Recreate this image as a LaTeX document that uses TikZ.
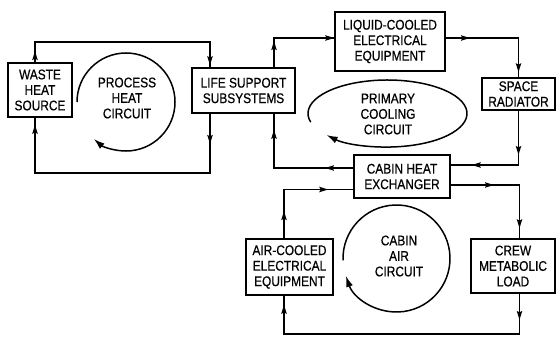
\documentclass[tikz,border=0pt]{standalone}
\usepackage{fontspec}
\setmainfont{Liberation Sans}[FakeStretch=0.85,FakeBold=0.6]
\usetikzlibrary{arrows.meta,decorations.markings}

\def\flowtip{\fill (1pt,0pt) -- (-8pt,2.8pt) -- (-6.5pt,0pt) -- (-8pt,-2.8pt) -- cycle;}

\tikzset{
  blk/.style={draw, line width=1.7pt, inner sep=0pt, align=center,
    font=\fontsize{14}{15.5}\selectfont},
  lbl/.style={inner sep=0pt, align=center, font=\fontsize{14}{15.5}\selectfont},
  flow/.style 2 args={draw, line width=1.4pt,
    postaction={decorate, decoration={markings,
      mark=at position #1 with {\flowtip},
      mark=at position #2 with {\flowtip}}}},
  loopline/.style={line width=1.5pt, -{Latex[length=11pt,width=7pt]}}
}

\begin{document}
\begin{tikzpicture}[x=1pt,y=-1pt]
  \useasboundingbox (0,0) rectangle (556,337);

  % blocks
  \foreach \n/\p/\w/\h/\t in {
      waste/{40,90}/64/54/{WASTE\\HEAT\\SOURCE},
      life/{243.5,90.5}/103/45/{LIFE SUPPORT\\SUBSYSTEMS},
      liquid/{390,41.5}/110/59/{LIQUID-COOLED\\ELECTRICAL\\EQUIPMENT},
      radiator/{518.5,94}/73/32/{SPACE\\RADIATOR},
      hx/{402,176.5}/96/43/{CABIN HEAT\\EXCHANGER},
      aircooled/{289.5,267}/87/56/{AIR-COOLED\\ELECTRICAL\\EQUIPMENT},
      crew/{513,266}/84/54/{CREW\\METABOLIC\\LOAD}}{
    \node[blk, minimum width=\w pt, minimum height=\h pt] (\n) at (\p) {\t};
  }

  % circuits
  \coordinate (procc) at (126,102);
  \coordinate (primc) at (387.5,113.5);
  \coordinate (airc) at (396.5,258.5);
  \node[lbl] (proc) at (127,98) {PROCESS\\HEAT\\CIRCUIT};
  \node[lbl] (prim) at (388,114) {PRIMARY\\COOLING\\CIRCUIT};
  \node[lbl] (cabair) at (399,256) {CABIN\\AIR\\CIRCUIT};
  \draw[loopline] ([shift={(180:49)}]procc) arc[start angle=180, end angle=491, radius=49];
  \draw[loopline] ([shift={(165:79.5 and 33.5)}]primc)
    arc[start angle=165, end angle=500, x radius=79.5, y radius=33.5];
  \draw[loopline] ([shift={(178:53.5)}]airc) arc[start angle=178, end angle=521, radius=53.5];

  % process heat loop
  \path[flow={10pt}{-3pt}] ([xshift=-5pt]waste.north) -- ++(0,-20) -| ([xshift=-33.5pt]life.north);
  \path[flow={29pt}{-8pt}] ([xshift=-33.5pt]life.south) -- ++(0,59) -| ([xshift=-5pt]waste.south);

  % primary cooling loop
  \path[flow={25pt}{-1pt}] ([xshift=30.5pt]life.north) |- ([yshift=3.5pt]liquid.west);
  \path[flow={23pt}{-6pt}] ([yshift=3.5pt]liquid.east) -| (radiator.north);
  \path[flow={43pt}{-22pt}] (radiator.south) |- ([yshift=11.5pt]hx.east);
  \path[flow={27pt}{-17pt}] ([yshift=8.5pt]hx.west) -| ([xshift=30.5pt]life.south);

  % cabin air loop
  \path[flow={42pt}{-11pt}] ([yshift=-8.5pt]hx.east) -| ([xshift=6.5pt]crew.north);
  \path[flow={25pt}{-10pt}] ([xshift=6.5pt]crew.south) -- ++(0,40) -| ([xshift=-5.5pt]aircooled.south);
  \path[flow={26pt}{-26pt}] ([xshift=-5.5pt]aircooled.north) |- ([yshift=-13pt]hx.west);
\end{tikzpicture}
\end{document}
